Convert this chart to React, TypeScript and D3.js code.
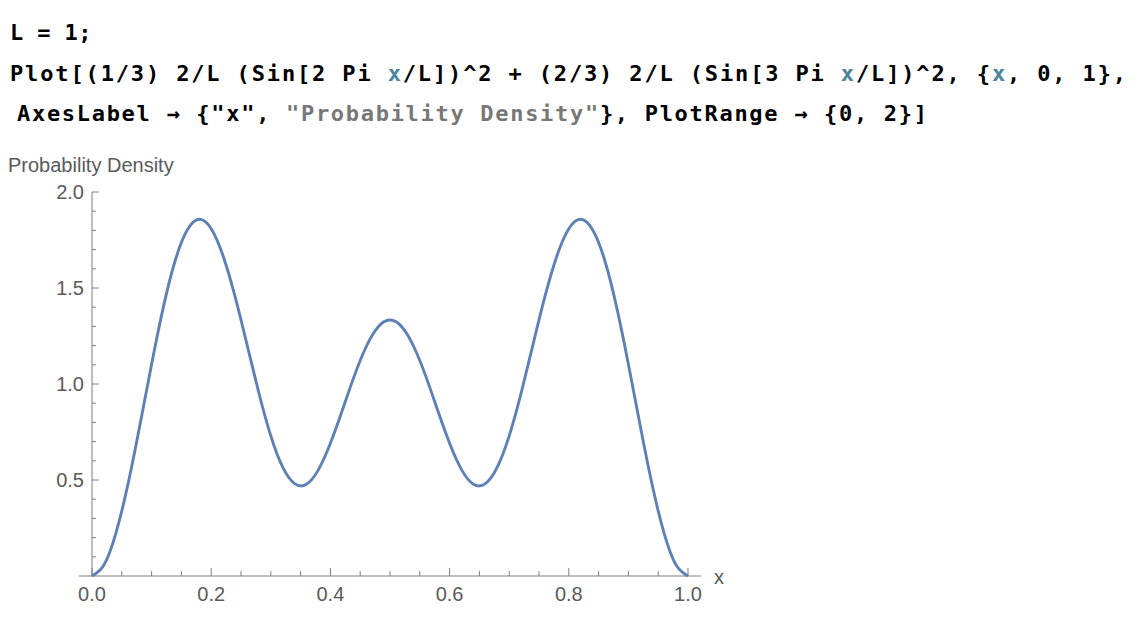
import React from "react";
import * as d3 from "d3";

const xValues = [
  0, 0.02, 0.04, 0.06, 0.08, 0.1, 0.12, 0.14, 0.16, 0.18, 0.2, 0.22, 0.24, 0.26, 0.28, 0.3, 0.32, 0.34, 0.36, 0.38, 0.4,
  0.42, 0.44, 0.46, 0.48, 0.5, 0.52, 0.54, 0.56, 0.58, 0.6, 0.62, 0.64, 0.66, 0.68, 0.7, 0.72, 0.74, 0.76, 0.78, 0.8,
  0.82, 0.84, 0.86, 0.88, 0.9, 0.92, 0.94, 0.96, 0.98, 1,
];
const densityValues = [
  0, 0.057, 0.222, 0.473, 0.78, 1.103, 1.404, 1.647, 1.803, 1.858, 1.809, 1.667, 1.456, 1.206, 0.953, 0.73, 0.567, 0.481,
  0.478, 0.554, 0.691, 0.863, 1.041, 1.194, 1.297, 1.333, 1.297, 1.194, 1.041, 0.863, 0.691, 0.554, 0.478, 0.481, 0.567,
  0.73, 0.953, 1.206, 1.456, 1.667, 1.809, 1.858, 1.803, 1.647, 1.404, 1.103, 0.78, 0.473, 0.222, 0.057, 0,
];
const xMajorTicks = [0, 0.2, 0.4, 0.6, 0.8, 1.0];
const xMajorLabels = ["0.0", "0.2", "0.4", "0.6", "0.8", "1.0"];
const xMinorTicks = [0.05, 0.1, 0.15, 0.25, 0.3, 0.35, 0.45, 0.5, 0.55, 0.65, 0.7, 0.75, 0.85, 0.9, 0.95];
const yMajorTicks = [0.5, 1.0, 1.5, 2.0];
const yMajorLabels = ["0.5", "1.0", "1.5", "2.0"];
const yMinorTicks = [0.1, 0.2, 0.3, 0.4, 0.6, 0.7, 0.8, 0.9, 1.1, 1.2, 1.3, 1.4, 1.6, 1.7, 1.8, 1.9];

const axisColor = "#7f7f7f";
const labelColor = "#5a5a5a";
const curveColor = "#5E81B5";
const varColor = "#4C8499";
const strColor = "#777777";
const codeFont = "'DejaVu Sans Mono', monospace";
const labelFont = "'Liberation Sans', Arial, sans-serif";

export default function App() {
  const x = d3.scaleLinear().domain([0, 1]).range([92, 688]);
  const y = d3.scaleLinear().domain([0, 2]).range([576, 192]);
  const pts = xValues.map((v, i) => [v, densityValues[i]] as [number, number]);
  const line = d3
    .line<[number, number]>()
    .x((d) => x(d[0]))
    .y((d) => y(d[1]))
    .curve(d3.curveNatural);

  const codeStyle = { fontFamily: codeFont, fontWeight: 700, fontSize: 22 } as const;

  return (
    <svg
      width={1144}
      height={630}
      style={{ position: "absolute", left: 0, top: 0, background: "#fff" }}
    >
      {/* code lines */}
      <text x={10} y={40} style={{ ...codeStyle, letterSpacing: "0.4px" }} fill="#000">
        L = 1;
      </text>
      <text x={10} y={81} style={{ ...codeStyle, letterSpacing: "1.86px" }} fill="#000">
        <tspan>Plot[(1/3) 2/L (Sin[2 Pi </tspan>
        <tspan fill={varColor}>x</tspan>
        <tspan>/L])^2 + (2/3) 2/L (Sin[3 Pi </tspan>
        <tspan fill={varColor}>x</tspan>
        <tspan>/L])^2, {"{"}</tspan>
        <tspan fill={varColor}>x</tspan>
        <tspan>, 0, 1{"}"},</tspan>
      </text>
      <text x={17} y={121} style={{ ...codeStyle, letterSpacing: "1.7px" }} fill="#000">
        <tspan>AxesLabel → {"{"}"x", </tspan>
        <tspan fill={strColor}>"Probability Density"</tspan>
        <tspan>{"}"}, PlotRange → {"{"}0, 2{"}"}]</tspan>
      </text>

      {/* axis labels */}
      <text x={8} y={172} fontFamily={labelFont} fontSize={20} fill={labelColor}>
        Probability Density
      </text>
      <text x={714} y={584} fontFamily={labelFont} fontSize={20} fill={labelColor}>
        x
      </text>

      {/* axes */}
      <line x1={79} x2={701} y1={y(0)} y2={y(0)} stroke={axisColor} strokeWidth={1} />
      <line x1={x(0)} x2={x(0)} y1={y(0)} y2={y(2)} stroke={axisColor} strokeWidth={1} />

      {xMajorTicks.map((t, i) => (
        <g key={"xm" + i}>
          <line x1={x(t)} x2={x(t)} y1={y(0)} y2={y(0) - 8} stroke={axisColor} />
          <text
            x={x(t)}
            y={601}
            textAnchor="middle"
            fontFamily={labelFont}
            fontSize={20}
            fill={labelColor}
          >
            {xMajorLabels[i]}
          </text>
        </g>
      ))}
      {xMinorTicks.map((t, i) => (
        <line key={"xn" + i} x1={x(t)} x2={x(t)} y1={y(0)} y2={y(0) - 5} stroke={axisColor} />
      ))}
      {yMajorTicks.map((t, i) => (
        <g key={"ym" + i}>
          <line x1={x(0)} x2={x(0) + 7} y1={y(t)} y2={y(t)} stroke={axisColor} />
          <text
            x={84}
            y={y(t) + 6.5}
            textAnchor="end"
            fontFamily={labelFont}
            fontSize={20}
            fill={labelColor}
          >
            {yMajorLabels[i]}
          </text>
        </g>
      ))}
      {yMinorTicks.map((t, i) => (
        <line key={"yn" + i} x1={x(0)} x2={x(0) + 4} y1={y(t)} y2={y(t)} stroke={axisColor} />
      ))}

      {/* curve */}
      <path d={line(pts) || ""} fill="none" stroke={curveColor} strokeWidth={2.9} strokeLinejoin="round" />
    </svg>
  );
}
